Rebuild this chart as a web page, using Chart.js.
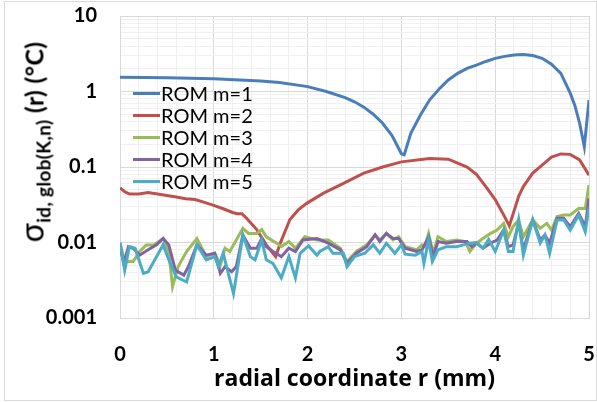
<!DOCTYPE html>
<html>
<head>
<meta charset="utf-8">
<script src="https://cdn.jsdelivr.net/npm/chart.js@4.4.1/dist/chart.umd.min.js"></script>
<style>
  html, body { margin: 0; padding: 0; background: #fff; }
  #wrap { position: relative; width: 597px; height: 403px; font-family: Lato, "Open Sans", sans-serif; }
  #frame { position: absolute; left: 4px; top: 1px; width: 591px; height: 398px; border: 1px solid #d9d9d9; pointer-events: none; }
  #chart { position: absolute; left: 0; top: 0; }
  #ytitle {
    position: absolute; left: 33px; top: 142px; white-space: nowrap;
    transform: translate(-50%, -50%) rotate(-90deg);
    font-weight: 700; font-size: 25px; letter-spacing: 0.3px; color: #000;
  }
  #ytitle .sig { font-size: 32px; font-weight: 400; }
  #ytitle sub { font-size: 19px; vertical-align: -7px; }
  .legend { position: absolute; left: 133px; top: 82px; }
  .legend-item { height: 22px; display: flex; align-items: center; font-size: 20px; color: #000; }
  .legend-color { display: inline-block; width: 27px; height: 3px; margin-right: 1px; }
</style>
</head>
<body>
<div id="wrap">
  <canvas id="chart" width="597" height="403"></canvas>
  <div id="ytitle"><span class="sig">σ</span><sub>id, glob(K,n)</sub> (r) (°C)</div>
  <div class="legend" id="legend"></div>
  <div id="frame"></div>
</div>
<script>
// radial coordinate (mm) and error values for each ROM order
const m1R = [0, 0.5, 1.0, 1.5, 1.7, 2.0, 2.2, 2.4, 2.5, 2.6, 2.7, 2.8, 2.9, 3.0, 3.03, 3.1, 3.2, 3.3, 3.4, 3.5, 3.6, 3.7, 3.8, 3.9, 4.0, 4.1, 4.2, 4.3, 4.4, 4.5, 4.6, 4.7, 4.8, 4.85, 4.9, 4.95, 5.0];
const m1V = [1.54, 1.52, 1.47, 1.38, 1.32, 1.16, 1.0, 0.83, 0.73, 0.62, 0.5, 0.38, 0.26, 0.15, 0.145, 0.28, 0.48, 0.77, 1.07, 1.42, 1.74, 2.02, 2.24, 2.5, 2.75, 2.92, 3.05, 3.1, 3.0, 2.75, 2.3, 1.74, 0.95, 0.65, 0.38, 0.186, 0.77];

const m2R = [0, 0.05, 0.1, 0.2, 0.3, 0.4, 0.5, 0.6, 0.7, 0.8, 0.9, 1.0, 1.1, 1.2, 1.25, 1.3, 1.35, 1.46, 1.56, 1.66, 1.71, 1.81, 1.9, 1.99, 2.17, 2.35, 2.6, 2.8, 3.0, 3.3, 3.5, 3.7, 3.8, 3.9, 4.0, 4.1, 4.15, 4.2, 4.25, 4.3, 4.4, 4.5, 4.6, 4.7, 4.8, 4.9, 5.0];
const m2V = [0.053, 0.047, 0.044, 0.044, 0.046, 0.044, 0.042, 0.040, 0.038, 0.037, 0.034, 0.031, 0.028, 0.025, 0.024, 0.024, 0.021, 0.0147, 0.0093, 0.0065, 0.0099, 0.020, 0.027, 0.033, 0.045, 0.058, 0.083, 0.10, 0.117, 0.13, 0.127, 0.10, 0.08, 0.055, 0.037, 0.022, 0.0166, 0.026, 0.041, 0.055, 0.083, 0.106, 0.135, 0.149, 0.147, 0.124, 0.078];

const m3R = [0, 0.05, 0.14, 0.21, 0.28, 0.36, 0.46, 0.52, 0.56, 0.62, 0.71, 0.82, 0.92, 1.01, 1.07, 1.12, 1.17, 1.31, 1.37, 1.46, 1.51, 1.56, 1.67, 1.72, 1.80, 1.87, 1.97, 2.10, 2.22, 2.35, 2.42, 2.52, 2.63, 2.72, 2.77, 2.84, 2.91, 2.97, 3.04, 3.16, 3.22, 3.25, 3.29, 3.34, 3.39, 3.48, 3.59, 3.68, 3.73, 3.80, 3.87, 3.95, 4.02, 4.09, 4.14, 4.19, 4.25, 4.30, 4.40, 4.48, 4.55, 4.60, 4.66, 4.73, 4.80, 4.89, 4.96, 5.0];
const m3V = [0.0098, 0.0056, 0.0056, 0.0076, 0.0093, 0.0093, 0.0113, 0.0076, 0.0026, 0.0048, 0.0076, 0.0113, 0.0065, 0.0072, 0.0050, 0.0084, 0.0076, 0.0154, 0.0132, 0.0132, 0.0149, 0.0119, 0.0098, 0.0088, 0.0103, 0.0084, 0.0119, 0.0108, 0.0108, 0.0084, 0.0056, 0.0076, 0.0093, 0.0126, 0.0108, 0.0132, 0.0108, 0.0119, 0.0088, 0.0080, 0.0093, 0.0088, 0.0132, 0.0072, 0.0119, 0.0103, 0.0108, 0.0103, 0.0076, 0.0098, 0.0113, 0.0132, 0.0146, 0.0179, 0.0119, 0.0162, 0.0199, 0.0119, 0.0199, 0.0154, 0.0179, 0.0146, 0.0220, 0.0231, 0.0231, 0.0283, 0.0283, 0.0577];

const m4R = [0, 0.04, 0.09, 0.14, 0.21, 0.30, 0.39, 0.46, 0.52, 0.59, 0.68, 0.73, 0.82, 0.92, 1.01, 1.07, 1.12, 1.19, 1.24, 1.31, 1.39, 1.46, 1.51, 1.56, 1.63, 1.72, 1.80, 1.87, 1.95, 2.10, 2.22, 2.35, 2.42, 2.52, 2.63, 2.72, 2.77, 2.84, 2.91, 2.97, 3.04, 3.16, 3.22, 3.29, 3.34, 3.39, 3.48, 3.59, 3.70, 3.75, 3.80, 3.87, 3.95, 4.02, 4.09, 4.14, 4.19, 4.25, 4.30, 4.40, 4.48, 4.53, 4.58, 4.66, 4.73, 4.80, 4.89, 4.96, 5.0];
const m4V = [0.0088, 0.0053, 0.0088, 0.0084, 0.0068, 0.0080, 0.0093, 0.0113, 0.0093, 0.0043, 0.0037, 0.0048, 0.0093, 0.0068, 0.0072, 0.0039, 0.0048, 0.0041, 0.0048, 0.0126, 0.0084, 0.0084, 0.0113, 0.0088, 0.0076, 0.0065, 0.0084, 0.0076, 0.0108, 0.0113, 0.0098, 0.0080, 0.0053, 0.0072, 0.0088, 0.0126, 0.0103, 0.0132, 0.0113, 0.0113, 0.0084, 0.0076, 0.0080, 0.0119, 0.0065, 0.0103, 0.0098, 0.0103, 0.0103, 0.0088, 0.0098, 0.0084, 0.0098, 0.0108, 0.0146, 0.0088, 0.0093, 0.0179, 0.0080, 0.0199, 0.0108, 0.0126, 0.0098, 0.0209, 0.0209, 0.0162, 0.0243, 0.0162, 0.0385];

const m5R = [0, 0.05, 0.10, 0.16, 0.25, 0.30, 0.46, 0.52, 0.60, 0.71, 0.82, 0.92, 1.01, 1.05, 1.10, 1.21, 1.31, 1.39, 1.44, 1.51, 1.56, 1.63, 1.72, 1.80, 1.87, 1.92, 2.01, 2.10, 2.13, 2.22, 2.27, 2.38, 2.42, 2.50, 2.61, 2.70, 2.77, 2.84, 2.93, 3.00, 3.04, 3.15, 3.22, 3.24, 3.29, 3.33, 3.39, 3.48, 3.59, 3.66, 3.73, 3.80, 3.87, 3.93, 4.00, 4.09, 4.14, 4.19, 4.25, 4.30, 4.40, 4.48, 4.53, 4.58, 4.66, 4.73, 4.80, 4.89, 4.96, 5.0];
const m5V = [0.0100, 0.0043, 0.0088, 0.0084, 0.0039, 0.0041, 0.0093, 0.0059, 0.0035, 0.0030, 0.0093, 0.0059, 0.0065, 0.0048, 0.0072, 0.0021, 0.0126, 0.0065, 0.0059, 0.0108, 0.0059, 0.0053, 0.0034, 0.0065, 0.0034, 0.0072, 0.0090, 0.0068, 0.0076, 0.0088, 0.0072, 0.0072, 0.0048, 0.0065, 0.0072, 0.0093, 0.0072, 0.0098, 0.0072, 0.0093, 0.0070, 0.0068, 0.0076, 0.0053, 0.0108, 0.0056, 0.0080, 0.0088, 0.0088, 0.0093, 0.0098, 0.0100, 0.0084, 0.0110, 0.0076, 0.0146, 0.0076, 0.0076, 0.0199, 0.0068, 0.0199, 0.0098, 0.0126, 0.0072, 0.0199, 0.0199, 0.0146, 0.0231, 0.0139, 0.0292];

const seriesNames = ['ROM m=1', 'ROM m=2', 'ROM m=3', 'ROM m=4', 'ROM m=5'];
const seriesColors = ['#4a7ebb', '#c0504d', '#9bbb59', '#8064a2', '#4bacc6'];
const xTickLabels = ['0', '1', '2', '3', '4', '5'];
const yTickLabels = ['0.001', '0.01', '0.1', '1', '10'];

const seriesR = [m1R, m2R, m3R, m4R, m5R];
const seriesV = [m1V, m2V, m3V, m4V, m5V];

// log grid: 1..9 in each decade
const yGrid = [];
for (let e = -3; e <= 0; e++) {
    for (let s = 1; s <= 9; s++) yGrid.push(s * Math.pow(10, e));
}
yGrid.push(10);

const isDecade = v => Math.abs(Math.log10(v) - Math.round(Math.log10(v))) < 1e-9;
const isInt = v => Math.abs(v - Math.round(v)) < 1e-6;

const datasets = seriesNames.map((name, i) => ({
    label: name,
    data: seriesR[i].map((r, k) => ({ x: r, y: seriesV[i][k] })),
    borderColor: seriesColors[i],
    backgroundColor: seriesColors[i],
    borderWidth: 3,
    pointRadius: 0,
    tension: 0,
    order: 5 - i
}));

document.getElementById('legend').innerHTML = seriesNames.map((n, i) =>
    `<div class="legend-item"><span class="legend-color" style="background:${seriesColors[i]}"></span>${n}</div>`
).join('');

new Chart(document.getElementById('chart'), {
    type: 'line',
    data: { datasets },
    options: {
        responsive: false,
        animation: false,
        layout: { padding: { left: 0, top: 16, right: 8, bottom: 0 } },
        plugins: { legend: { display: false }, tooltip: { enabled: false } },
        scales: {
            x: {
                type: 'linear',
                min: 0, max: 5,
                border: { color: '#d9d9d9' },
                grid: {
                    drawTicks: true,
                    tickLength: 25,
                    tickColor: 'rgba(0,0,0,0)',
                    color: c => isInt(c.tick.value) ? '#d9d9d9' : '#f0f0f0'
                },
                ticks: {
                    stepSize: 0.2,
                    autoSkip: false,
                    maxRotation: 0,
                    padding: 0,
                    color: '#000',
                    font: { family: 'Lato', size: 20, weight: 'bold' },
                    callback: v => isInt(v) ? xTickLabels[Math.round(v)] : ''
                },
                title: {
                    display: true,
                    text: 'radial coordinate r (mm)',
                    color: '#000',
                    font: { family: 'Open Sans', size: 23, weight: 'bold' },
                    padding: { top: 0, bottom: 10 }
                },
                afterFit: s => { s.height = 85; }
            },
            y: {
                type: 'logarithmic',
                min: 0.001, max: 10,
                border: { color: '#d9d9d9' },
                afterBuildTicks: axis => { axis.ticks = yGrid.map(v => ({ value: v })); },
                grid: {
                    drawTicks: true,
                    tickLength: 23,
                    tickColor: 'rgba(0,0,0,0)',
                    color: c => isDecade(c.tick.value) ? '#d9d9d9' : '#f0f0f0'
                },
                ticks: {
                    autoSkip: false,
                    padding: 0,
                    color: '#000',
                    font: { family: 'Lato', size: 20, weight: 'bold' },
                    callback: v => isDecade(v) ? yTickLabels[Math.round(Math.log10(v)) + 3] : ''
                },
                afterFit: s => { s.width = 120; }
            }
        }
    }
});
</script>
</body>
</html>
